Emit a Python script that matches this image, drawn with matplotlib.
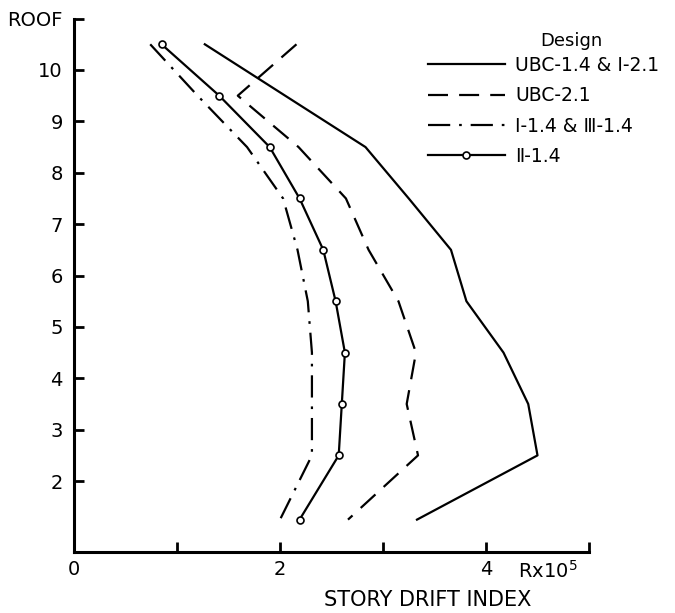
import numpy as np
import matplotlib.pyplot as plt

# story mid-heights (floor units) and drift index values (R x 10^5)
levels = [10.5, 9.5, 8.5, 7.5, 6.5, 5.5, 4.5, 3.5, 2.5, 1.25]
ubc14_i21 = [1.27, 2.05, 2.83, 3.25, 3.66, 3.81, 4.17, 4.41, 4.50, 3.33]
ubc21 = [2.16, 1.59, 2.18, 2.64, 2.86, 3.15, 3.32, 3.23, 3.34, 2.66]
i14_iii14 = [0.74, 1.20, 1.68, 2.03, 2.17, 2.27, 2.31, 2.31, 2.31, 2.00]
ii14 = [0.85, 1.41, 1.90, 2.19, 2.42, 2.54, 2.63, 2.60, 2.57, 2.19]

ytick_pos = [2, 3, 4, 5, 6, 7, 8, 9, 10, 11]
ytick_labels = ["2", "3", "4", "5", "6", "7", "8", "9", "10", "ROOF"]
xtick_pos = [0, 1, 2, 3, 4, 5]
xtick_labels = ["0", "", "2", "", "4", ""]

fig = plt.figure(figsize=(6.75, 6.13), dpi=100)
ax = fig.add_axes([74 / 675, 1 - 552 / 613, (589 - 74) / 675, (552 - 18.6) / 613])

lw = 1.6
ax.plot(ubc14_i21, levels, color="black", lw=lw, label="UBC-1.4 & Ⅰ-2.1")
ax.plot(ubc21, levels, color="black", lw=lw, dashes=(9, 5), label="UBC-2.1")
ax.plot(i14_iii14, levels, color="black", lw=lw, dashes=(10, 4, 1.2, 4),
        label="Ⅰ-1.4 & Ⅲ-1.4")
ax.plot(ii14, levels, color="black", lw=lw, marker="o", ms=5,
        mfc="white", mec="black", mew=1.2, label="Ⅱ-1.4")

ax.set_xlim(0, 5)
ax.set_ylim(0.62, 11)
ax.spines["top"].set_visible(False)
ax.spines["right"].set_visible(False)
ax.spines["left"].set_linewidth(2.2)
ax.spines["bottom"].set_linewidth(2.2)
ax.set_xticks(xtick_pos)
ax.set_xticklabels(xtick_labels)
ax.set_yticks(ytick_pos)
ax.set_yticklabels(ytick_labels)
ax.tick_params(direction="in", length=7, width=2, labelsize=14, pad=8)
ax.tick_params(axis="x", pad=6)

fig.text(518 / 675, 1 - 578 / 613, r"Rx10$^5$", fontsize=14, va="baseline")
fig.text(428 / 675, 1 - 606 / 613, "STORY DRIFT INDEX", fontsize=15,
         ha="center", va="baseline")

fig.text(571 / 675, 1 - 41 / 613, "Design", fontsize=13, ha="center", va="center")
ax.legend(loc="upper left", bbox_to_anchor=(428 / 675, 1 - 56 / 613),
          bbox_transform=fig.transFigure, frameon=False, fontsize=13.5,
          handlelength=4.1, handletextpad=0.55, borderpad=0, borderaxespad=0,
          labelspacing=0.6)

fig.savefig("out.png", dpi=100)
